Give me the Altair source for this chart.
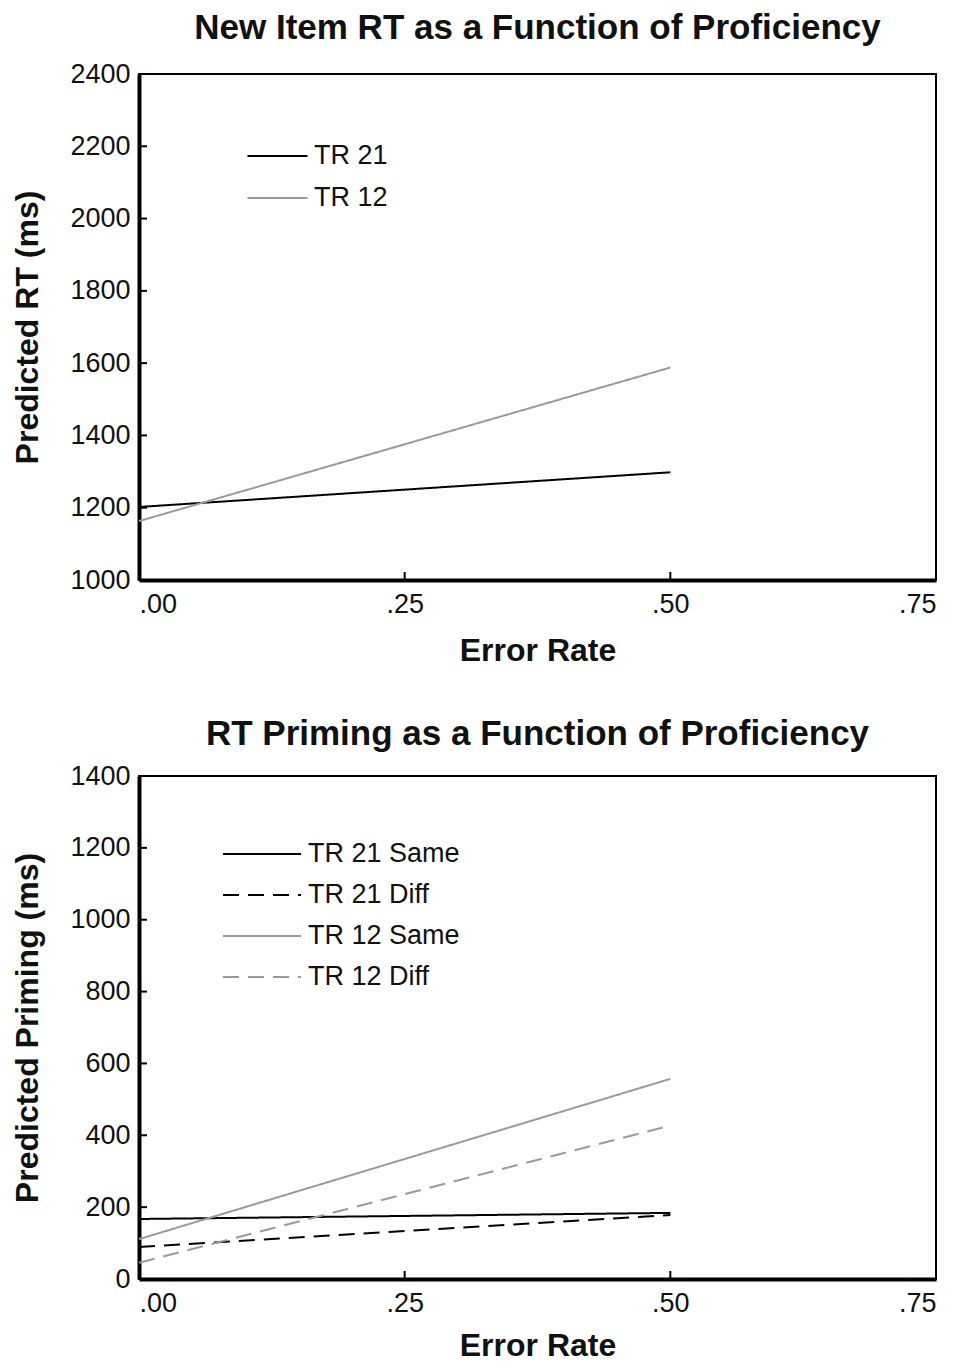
import altair as alt
import pandas as pd

FONT = "Liberation Sans"

# ---- data ----
err_rate = [0.0, 0.5]
top_series = ["TR 21", "TR 12"]
top_tr21 = [1202, 1298]
top_tr12 = [1163, 1588]

bot_series = ["TR 21 Same", "TR 21 Diff", "TR 12 Same", "TR 12 Diff"]
bot_tr21_same = [167, 184]
bot_tr21_diff = [89, 178]
bot_tr12_same = [111, 557]
bot_tr12_diff = [45, 427]

x_ticks = [0.0, 0.25, 0.5, 0.75]
top_yticks = [1000, 1200, 1400, 1600, 1800, 2000, 2200, 2400]
bot_yticks = [0, 200, 400, 600, 800, 1000, 1200, 1400]

top_df = pd.DataFrame(
    [{"series": s, "x": x, "y": y}
     for s, ys in zip(top_series, [top_tr21, top_tr12])
     for x, y in zip(err_rate, ys)]
)
bot_df = pd.DataFrame(
    [{"series": s, "x": x, "y": y}
     for s, ys in zip(bot_series, [bot_tr21_same, bot_tr21_diff, bot_tr12_same, bot_tr12_diff])
     for x, y in zip(err_rate, ys)]
)

W = 797
BLACK = "#000000"
GRAY = "#9a9a9a"
DASH = [16, 9]

label_expr = "replace(format(datum.value, '.2f'), '0.', '.')"
# wide horizontal line symbol for the legend (3x the nominal symbol width)
LEG_SYMBOL = "M-3,0H3"


def panel(df, series, colors, dashes, yticks, ytitle, title, lx, ly, sym_w,
          rowpad, lab_off, H, toff, xtpad):
    ymin, ymax = yticks[0], yticks[-1]
    xenc = alt.X(
        "x:Q",
        scale=alt.Scale(domain=[0, 0.75], nice=False, zero=False),
        axis=alt.Axis(
            values=x_ticks, labelExpr=label_expr, title="Error Rate",
            ticks=False, grid=False, labelPadding=11, titlePadding=xtpad,
        ),
    )
    yenc = alt.Y(
        "y:Q",
        scale=alt.Scale(domain=[ymin, ymax], nice=False, zero=False),
        axis=alt.Axis(values=yticks, format="d", title=ytitle, ticks=False,
                      grid=False, labelPadding=9, titlePadding=25),
    )
    leg = dict(
        orient="none", legendX=lx, legendY=ly, title=None,
        symbolType=LEG_SYMBOL, symbolSize=sym_w * sym_w, symbolStrokeWidth=2,
        labelFontSize=27, labelFont=FONT, labelColor="#111",
        rowPadding=rowpad, labelOffset=lab_off,
    )
    lines = alt.Chart(df).mark_line(strokeWidth=2).encode(
        x=xenc,
        y=yenc,
        color=alt.Color("series:N", scale=alt.Scale(domain=series, range=colors),
                        legend=alt.Legend(**leg)),
        strokeDash=alt.StrokeDash("series:N", scale=alt.Scale(domain=series, range=dashes),
                                  legend=alt.Legend(**leg)),
    )
    xt = alt.Chart(pd.DataFrame({"t": x_ticks[1:-1]})).mark_rule(
        color=BLACK, strokeWidth=2
    ).encode(x="t:Q", y=alt.value(H), y2=alt.value(H - 8))
    yt = alt.Chart(pd.DataFrame({"t": yticks[1:-1]})).mark_rule(
        color=BLACK, strokeWidth=2
    ).encode(y="t:Q", x=alt.value(0), x2=alt.value(8))
    return alt.layer(lines, xt, yt).properties(
        width=W, height=H,
        title=alt.TitleParams(title, fontSize=35, font=FONT, fontWeight="bold",
                              anchor="middle", offset=toff, color="#111"),
    )


top = panel(top_df, top_series, [BLACK, GRAY], [[1, 0], [1, 0]],
            top_yticks, "Predicted RT (ms)",
            "New Item RT as a Function of Proficiency",
            125, 68.5, 20, 14, 23, 506, 14, 18)
bot = panel(bot_df, bot_series, [BLACK, BLACK, GRAY, GRAY],
            [[1, 0], DASH, [1, 0], DASH],
            bot_yticks, "Predicted Priming (ms)",
            "RT Priming as a Function of Proficiency",
            109, 64, 26, 14, 32, 503, 10, 14)

chart = alt.vconcat(top, bot, spacing=49).resolve_scale(
    color="independent", strokeDash="independent", x="independent", y="independent"
).resolve_legend(color="independent", strokeDash="independent").configure(
    padding={"left": 2, "top": 2, "right": 10, "bottom": 0}
).configure_view(
    stroke=BLACK, strokeWidth=2
).configure_axis(
    domainColor=BLACK, domainWidth=4, labelFont=FONT, labelFontSize=27,
    labelColor="#111", titleFont=FONT, titleFontSize=32, titleFontWeight="bold",
    titleColor="#111",
)

chart.save("out.html", embed_options={"renderer": "svg", "actions": False})
